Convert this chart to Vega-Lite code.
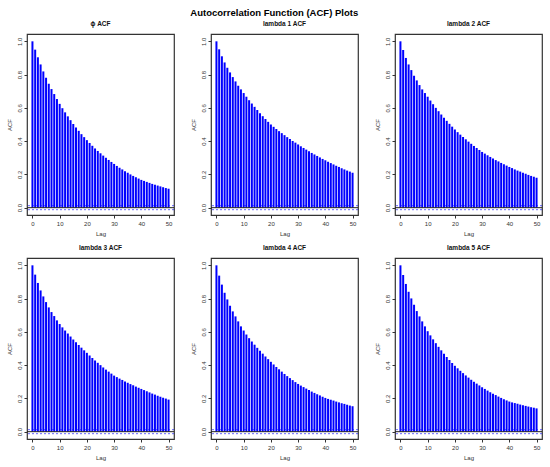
{
  "$schema": "https://vega.github.io/schema/vega-lite/v6.json",
  "description": "ACF plots for phi and lambda 1-5, lags 0 to 50.",
  "padding": {"left": 5, "right": 5, "top": 8, "bottom": 5},
  "title": {
    "text": "Autocorrelation Function (ACF) Plots",
    "font": "Liberation Sans",
    "fontSize": 9.5,
    "fontWeight": "bold",
    "color": "#000",
    "anchor": "middle",
    "offset": 2
  },
  "data": {
    "values": [
      {"panel": "ϕ ACF", "lag": 0, "acf": 1},
      {"panel": "ϕ ACF", "lag": 1, "acf": 0.95},
      {"panel": "ϕ ACF", "lag": 2, "acf": 0.904},
      {"panel": "ϕ ACF", "lag": 3, "acf": 0.861},
      {"panel": "ϕ ACF", "lag": 4, "acf": 0.819},
      {"panel": "ϕ ACF", "lag": 5, "acf": 0.781},
      {"panel": "ϕ ACF", "lag": 6, "acf": 0.745},
      {"panel": "ϕ ACF", "lag": 7, "acf": 0.713},
      {"panel": "ϕ ACF", "lag": 8, "acf": 0.683},
      {"panel": "ϕ ACF", "lag": 9, "acf": 0.653},
      {"panel": "ϕ ACF", "lag": 10, "acf": 0.624},
      {"panel": "ϕ ACF", "lag": 11, "acf": 0.598},
      {"panel": "ϕ ACF", "lag": 12, "acf": 0.573},
      {"panel": "ϕ ACF", "lag": 13, "acf": 0.549},
      {"panel": "ϕ ACF", "lag": 14, "acf": 0.526},
      {"panel": "ϕ ACF", "lag": 15, "acf": 0.503},
      {"panel": "ϕ ACF", "lag": 16, "acf": 0.482},
      {"panel": "ϕ ACF", "lag": 17, "acf": 0.462},
      {"panel": "ϕ ACF", "lag": 18, "acf": 0.442},
      {"panel": "ϕ ACF", "lag": 19, "acf": 0.424},
      {"panel": "ϕ ACF", "lag": 20, "acf": 0.406},
      {"panel": "ϕ ACF", "lag": 21, "acf": 0.389},
      {"panel": "ϕ ACF", "lag": 22, "acf": 0.372},
      {"panel": "ϕ ACF", "lag": 23, "acf": 0.356},
      {"panel": "ϕ ACF", "lag": 24, "acf": 0.341},
      {"panel": "ϕ ACF", "lag": 25, "acf": 0.327},
      {"panel": "ϕ ACF", "lag": 26, "acf": 0.313},
      {"panel": "ϕ ACF", "lag": 27, "acf": 0.3},
      {"panel": "ϕ ACF", "lag": 28, "acf": 0.287},
      {"panel": "ϕ ACF", "lag": 29, "acf": 0.275},
      {"panel": "ϕ ACF", "lag": 30, "acf": 0.263},
      {"panel": "ϕ ACF", "lag": 31, "acf": 0.251},
      {"panel": "ϕ ACF", "lag": 32, "acf": 0.24},
      {"panel": "ϕ ACF", "lag": 33, "acf": 0.23},
      {"panel": "ϕ ACF", "lag": 34, "acf": 0.219},
      {"panel": "ϕ ACF", "lag": 35, "acf": 0.21},
      {"panel": "ϕ ACF", "lag": 36, "acf": 0.2},
      {"panel": "ϕ ACF", "lag": 37, "acf": 0.191},
      {"panel": "ϕ ACF", "lag": 38, "acf": 0.183},
      {"panel": "ϕ ACF", "lag": 39, "acf": 0.175},
      {"panel": "ϕ ACF", "lag": 40, "acf": 0.167},
      {"panel": "ϕ ACF", "lag": 41, "acf": 0.161},
      {"panel": "ϕ ACF", "lag": 42, "acf": 0.155},
      {"panel": "ϕ ACF", "lag": 43, "acf": 0.149},
      {"panel": "ϕ ACF", "lag": 44, "acf": 0.143},
      {"panel": "ϕ ACF", "lag": 45, "acf": 0.138},
      {"panel": "ϕ ACF", "lag": 46, "acf": 0.133},
      {"panel": "ϕ ACF", "lag": 47, "acf": 0.128},
      {"panel": "ϕ ACF", "lag": 48, "acf": 0.123},
      {"panel": "ϕ ACF", "lag": 49, "acf": 0.118},
      {"panel": "ϕ ACF", "lag": 50, "acf": 0.114},
      {"panel": "lambda 1 ACF", "lag": 0, "acf": 1},
      {"panel": "lambda 1 ACF", "lag": 1, "acf": 0.952},
      {"panel": "lambda 1 ACF", "lag": 2, "acf": 0.91},
      {"panel": "lambda 1 ACF", "lag": 3, "acf": 0.873},
      {"panel": "lambda 1 ACF", "lag": 4, "acf": 0.841},
      {"panel": "lambda 1 ACF", "lag": 5, "acf": 0.813},
      {"panel": "lambda 1 ACF", "lag": 6, "acf": 0.785},
      {"panel": "lambda 1 ACF", "lag": 7, "acf": 0.759},
      {"panel": "lambda 1 ACF", "lag": 8, "acf": 0.733},
      {"panel": "lambda 1 ACF", "lag": 9, "acf": 0.711},
      {"panel": "lambda 1 ACF", "lag": 10, "acf": 0.689},
      {"panel": "lambda 1 ACF", "lag": 11, "acf": 0.667},
      {"panel": "lambda 1 ACF", "lag": 12, "acf": 0.646},
      {"panel": "lambda 1 ACF", "lag": 13, "acf": 0.626},
      {"panel": "lambda 1 ACF", "lag": 14, "acf": 0.606},
      {"panel": "lambda 1 ACF", "lag": 15, "acf": 0.587},
      {"panel": "lambda 1 ACF", "lag": 16, "acf": 0.568},
      {"panel": "lambda 1 ACF", "lag": 17, "acf": 0.55},
      {"panel": "lambda 1 ACF", "lag": 18, "acf": 0.533},
      {"panel": "lambda 1 ACF", "lag": 19, "acf": 0.516},
      {"panel": "lambda 1 ACF", "lag": 20, "acf": 0.5},
      {"panel": "lambda 1 ACF", "lag": 21, "acf": 0.486},
      {"panel": "lambda 1 ACF", "lag": 22, "acf": 0.473},
      {"panel": "lambda 1 ACF", "lag": 23, "acf": 0.46},
      {"panel": "lambda 1 ACF", "lag": 24, "acf": 0.448},
      {"panel": "lambda 1 ACF", "lag": 25, "acf": 0.436},
      {"panel": "lambda 1 ACF", "lag": 26, "acf": 0.424},
      {"panel": "lambda 1 ACF", "lag": 27, "acf": 0.413},
      {"panel": "lambda 1 ACF", "lag": 28, "acf": 0.401},
      {"panel": "lambda 1 ACF", "lag": 29, "acf": 0.391},
      {"panel": "lambda 1 ACF", "lag": 30, "acf": 0.38},
      {"panel": "lambda 1 ACF", "lag": 31, "acf": 0.369},
      {"panel": "lambda 1 ACF", "lag": 32, "acf": 0.359},
      {"panel": "lambda 1 ACF", "lag": 33, "acf": 0.349},
      {"panel": "lambda 1 ACF", "lag": 34, "acf": 0.339},
      {"panel": "lambda 1 ACF", "lag": 35, "acf": 0.329},
      {"panel": "lambda 1 ACF", "lag": 36, "acf": 0.32},
      {"panel": "lambda 1 ACF", "lag": 37, "acf": 0.311},
      {"panel": "lambda 1 ACF", "lag": 38, "acf": 0.302},
      {"panel": "lambda 1 ACF", "lag": 39, "acf": 0.293},
      {"panel": "lambda 1 ACF", "lag": 40, "acf": 0.285},
      {"panel": "lambda 1 ACF", "lag": 41, "acf": 0.276},
      {"panel": "lambda 1 ACF", "lag": 42, "acf": 0.268},
      {"panel": "lambda 1 ACF", "lag": 43, "acf": 0.26},
      {"panel": "lambda 1 ACF", "lag": 44, "acf": 0.252},
      {"panel": "lambda 1 ACF", "lag": 45, "acf": 0.245},
      {"panel": "lambda 1 ACF", "lag": 46, "acf": 0.237},
      {"panel": "lambda 1 ACF", "lag": 47, "acf": 0.23},
      {"panel": "lambda 1 ACF", "lag": 48, "acf": 0.223},
      {"panel": "lambda 1 ACF", "lag": 49, "acf": 0.217},
      {"panel": "lambda 1 ACF", "lag": 50, "acf": 0.21},
      {"panel": "lambda 2 ACF", "lag": 0, "acf": 1},
      {"panel": "lambda 2 ACF", "lag": 1, "acf": 0.948},
      {"panel": "lambda 2 ACF", "lag": 2, "acf": 0.9},
      {"panel": "lambda 2 ACF", "lag": 3, "acf": 0.861},
      {"panel": "lambda 2 ACF", "lag": 4, "acf": 0.827},
      {"panel": "lambda 2 ACF", "lag": 5, "acf": 0.793},
      {"panel": "lambda 2 ACF", "lag": 6, "acf": 0.765},
      {"panel": "lambda 2 ACF", "lag": 7, "acf": 0.737},
      {"panel": "lambda 2 ACF", "lag": 8, "acf": 0.711},
      {"panel": "lambda 2 ACF", "lag": 9, "acf": 0.689},
      {"panel": "lambda 2 ACF", "lag": 10, "acf": 0.667},
      {"panel": "lambda 2 ACF", "lag": 11, "acf": 0.644},
      {"panel": "lambda 2 ACF", "lag": 12, "acf": 0.622},
      {"panel": "lambda 2 ACF", "lag": 13, "acf": 0.6},
      {"panel": "lambda 2 ACF", "lag": 14, "acf": 0.58},
      {"panel": "lambda 2 ACF", "lag": 15, "acf": 0.56},
      {"panel": "lambda 2 ACF", "lag": 16, "acf": 0.541},
      {"panel": "lambda 2 ACF", "lag": 17, "acf": 0.522},
      {"panel": "lambda 2 ACF", "lag": 18, "acf": 0.504},
      {"panel": "lambda 2 ACF", "lag": 19, "acf": 0.487},
      {"panel": "lambda 2 ACF", "lag": 20, "acf": 0.47},
      {"panel": "lambda 2 ACF", "lag": 21, "acf": 0.454},
      {"panel": "lambda 2 ACF", "lag": 22, "acf": 0.439},
      {"panel": "lambda 2 ACF", "lag": 23, "acf": 0.425},
      {"panel": "lambda 2 ACF", "lag": 24, "acf": 0.411},
      {"panel": "lambda 2 ACF", "lag": 25, "acf": 0.397},
      {"panel": "lambda 2 ACF", "lag": 26, "acf": 0.384},
      {"panel": "lambda 2 ACF", "lag": 27, "acf": 0.371},
      {"panel": "lambda 2 ACF", "lag": 28, "acf": 0.359},
      {"panel": "lambda 2 ACF", "lag": 29, "acf": 0.347},
      {"panel": "lambda 2 ACF", "lag": 30, "acf": 0.335},
      {"panel": "lambda 2 ACF", "lag": 31, "acf": 0.325},
      {"panel": "lambda 2 ACF", "lag": 32, "acf": 0.315},
      {"panel": "lambda 2 ACF", "lag": 33, "acf": 0.305},
      {"panel": "lambda 2 ACF", "lag": 34, "acf": 0.296},
      {"panel": "lambda 2 ACF", "lag": 35, "acf": 0.286},
      {"panel": "lambda 2 ACF", "lag": 36, "acf": 0.278},
      {"panel": "lambda 2 ACF", "lag": 37, "acf": 0.269},
      {"panel": "lambda 2 ACF", "lag": 38, "acf": 0.261},
      {"panel": "lambda 2 ACF", "lag": 39, "acf": 0.253},
      {"panel": "lambda 2 ACF", "lag": 40, "acf": 0.245},
      {"panel": "lambda 2 ACF", "lag": 41, "acf": 0.238},
      {"panel": "lambda 2 ACF", "lag": 42, "acf": 0.23},
      {"panel": "lambda 2 ACF", "lag": 43, "acf": 0.223},
      {"panel": "lambda 2 ACF", "lag": 44, "acf": 0.217},
      {"panel": "lambda 2 ACF", "lag": 45, "acf": 0.21},
      {"panel": "lambda 2 ACF", "lag": 46, "acf": 0.204},
      {"panel": "lambda 2 ACF", "lag": 47, "acf": 0.197},
      {"panel": "lambda 2 ACF", "lag": 48, "acf": 0.191},
      {"panel": "lambda 2 ACF", "lag": 49, "acf": 0.186},
      {"panel": "lambda 2 ACF", "lag": 50, "acf": 0.18},
      {"panel": "lambda 3 ACF", "lag": 0, "acf": 1},
      {"panel": "lambda 3 ACF", "lag": 1, "acf": 0.944},
      {"panel": "lambda 3 ACF", "lag": 2, "acf": 0.894},
      {"panel": "lambda 3 ACF", "lag": 3, "acf": 0.849},
      {"panel": "lambda 3 ACF", "lag": 4, "acf": 0.813},
      {"panel": "lambda 3 ACF", "lag": 5, "acf": 0.779},
      {"panel": "lambda 3 ACF", "lag": 6, "acf": 0.747},
      {"panel": "lambda 3 ACF", "lag": 7, "acf": 0.719},
      {"panel": "lambda 3 ACF", "lag": 8, "acf": 0.695},
      {"panel": "lambda 3 ACF", "lag": 9, "acf": 0.669},
      {"panel": "lambda 3 ACF", "lag": 10, "acf": 0.647},
      {"panel": "lambda 3 ACF", "lag": 11, "acf": 0.627},
      {"panel": "lambda 3 ACF", "lag": 12, "acf": 0.608},
      {"panel": "lambda 3 ACF", "lag": 13, "acf": 0.59},
      {"panel": "lambda 3 ACF", "lag": 14, "acf": 0.572},
      {"panel": "lambda 3 ACF", "lag": 15, "acf": 0.554},
      {"panel": "lambda 3 ACF", "lag": 16, "acf": 0.537},
      {"panel": "lambda 3 ACF", "lag": 17, "acf": 0.521},
      {"panel": "lambda 3 ACF", "lag": 18, "acf": 0.505},
      {"panel": "lambda 3 ACF", "lag": 19, "acf": 0.489},
      {"panel": "lambda 3 ACF", "lag": 20, "acf": 0.474},
      {"panel": "lambda 3 ACF", "lag": 21, "acf": 0.458},
      {"panel": "lambda 3 ACF", "lag": 22, "acf": 0.443},
      {"panel": "lambda 3 ACF", "lag": 23, "acf": 0.428},
      {"panel": "lambda 3 ACF", "lag": 24, "acf": 0.414},
      {"panel": "lambda 3 ACF", "lag": 25, "acf": 0.4},
      {"panel": "lambda 3 ACF", "lag": 26, "acf": 0.386},
      {"panel": "lambda 3 ACF", "lag": 27, "acf": 0.373},
      {"panel": "lambda 3 ACF", "lag": 28, "acf": 0.361},
      {"panel": "lambda 3 ACF", "lag": 29, "acf": 0.349},
      {"panel": "lambda 3 ACF", "lag": 30, "acf": 0.337},
      {"panel": "lambda 3 ACF", "lag": 31, "acf": 0.328},
      {"panel": "lambda 3 ACF", "lag": 32, "acf": 0.319},
      {"panel": "lambda 3 ACF", "lag": 33, "acf": 0.311},
      {"panel": "lambda 3 ACF", "lag": 34, "acf": 0.302},
      {"panel": "lambda 3 ACF", "lag": 35, "acf": 0.294},
      {"panel": "lambda 3 ACF", "lag": 36, "acf": 0.286},
      {"panel": "lambda 3 ACF", "lag": 37, "acf": 0.279},
      {"panel": "lambda 3 ACF", "lag": 38, "acf": 0.271},
      {"panel": "lambda 3 ACF", "lag": 39, "acf": 0.264},
      {"panel": "lambda 3 ACF", "lag": 40, "acf": 0.257},
      {"panel": "lambda 3 ACF", "lag": 41, "acf": 0.25},
      {"panel": "lambda 3 ACF", "lag": 42, "acf": 0.243},
      {"panel": "lambda 3 ACF", "lag": 43, "acf": 0.236},
      {"panel": "lambda 3 ACF", "lag": 44, "acf": 0.229},
      {"panel": "lambda 3 ACF", "lag": 45, "acf": 0.223},
      {"panel": "lambda 3 ACF", "lag": 46, "acf": 0.216},
      {"panel": "lambda 3 ACF", "lag": 47, "acf": 0.21},
      {"panel": "lambda 3 ACF", "lag": 48, "acf": 0.204},
      {"panel": "lambda 3 ACF", "lag": 49, "acf": 0.199},
      {"panel": "lambda 3 ACF", "lag": 50, "acf": 0.193},
      {"panel": "lambda 4 ACF", "lag": 0, "acf": 1},
      {"panel": "lambda 4 ACF", "lag": 1, "acf": 0.938},
      {"panel": "lambda 4 ACF", "lag": 2, "acf": 0.884},
      {"panel": "lambda 4 ACF", "lag": 3, "acf": 0.835},
      {"panel": "lambda 4 ACF", "lag": 4, "acf": 0.795},
      {"panel": "lambda 4 ACF", "lag": 5, "acf": 0.757},
      {"panel": "lambda 4 ACF", "lag": 6, "acf": 0.723},
      {"panel": "lambda 4 ACF", "lag": 7, "acf": 0.693},
      {"panel": "lambda 4 ACF", "lag": 8, "acf": 0.663},
      {"panel": "lambda 4 ACF", "lag": 9, "acf": 0.633},
      {"panel": "lambda 4 ACF", "lag": 10, "acf": 0.608},
      {"panel": "lambda 4 ACF", "lag": 11, "acf": 0.584},
      {"panel": "lambda 4 ACF", "lag": 12, "acf": 0.562},
      {"panel": "lambda 4 ACF", "lag": 13, "acf": 0.542},
      {"panel": "lambda 4 ACF", "lag": 14, "acf": 0.523},
      {"panel": "lambda 4 ACF", "lag": 15, "acf": 0.504},
      {"panel": "lambda 4 ACF", "lag": 16, "acf": 0.486},
      {"panel": "lambda 4 ACF", "lag": 17, "acf": 0.469},
      {"panel": "lambda 4 ACF", "lag": 18, "acf": 0.452},
      {"panel": "lambda 4 ACF", "lag": 19, "acf": 0.436},
      {"panel": "lambda 4 ACF", "lag": 20, "acf": 0.42},
      {"panel": "lambda 4 ACF", "lag": 21, "acf": 0.404},
      {"panel": "lambda 4 ACF", "lag": 22, "acf": 0.389},
      {"panel": "lambda 4 ACF", "lag": 23, "acf": 0.375},
      {"panel": "lambda 4 ACF", "lag": 24, "acf": 0.361},
      {"panel": "lambda 4 ACF", "lag": 25, "acf": 0.347},
      {"panel": "lambda 4 ACF", "lag": 26, "acf": 0.334},
      {"panel": "lambda 4 ACF", "lag": 27, "acf": 0.322},
      {"panel": "lambda 4 ACF", "lag": 28, "acf": 0.31},
      {"panel": "lambda 4 ACF", "lag": 29, "acf": 0.298},
      {"panel": "lambda 4 ACF", "lag": 30, "acf": 0.287},
      {"panel": "lambda 4 ACF", "lag": 31, "acf": 0.277},
      {"panel": "lambda 4 ACF", "lag": 32, "acf": 0.268},
      {"panel": "lambda 4 ACF", "lag": 33, "acf": 0.259},
      {"panel": "lambda 4 ACF", "lag": 34, "acf": 0.25},
      {"panel": "lambda 4 ACF", "lag": 35, "acf": 0.241},
      {"panel": "lambda 4 ACF", "lag": 36, "acf": 0.233},
      {"panel": "lambda 4 ACF", "lag": 37, "acf": 0.225},
      {"panel": "lambda 4 ACF", "lag": 38, "acf": 0.218},
      {"panel": "lambda 4 ACF", "lag": 39, "acf": 0.21},
      {"panel": "lambda 4 ACF", "lag": 40, "acf": 0.203},
      {"panel": "lambda 4 ACF", "lag": 41, "acf": 0.197},
      {"panel": "lambda 4 ACF", "lag": 42, "acf": 0.192},
      {"panel": "lambda 4 ACF", "lag": 43, "acf": 0.187},
      {"panel": "lambda 4 ACF", "lag": 44, "acf": 0.181},
      {"panel": "lambda 4 ACF", "lag": 45, "acf": 0.176},
      {"panel": "lambda 4 ACF", "lag": 46, "acf": 0.171},
      {"panel": "lambda 4 ACF", "lag": 47, "acf": 0.167},
      {"panel": "lambda 4 ACF", "lag": 48, "acf": 0.162},
      {"panel": "lambda 4 ACF", "lag": 49, "acf": 0.157},
      {"panel": "lambda 4 ACF", "lag": 50, "acf": 0.153},
      {"panel": "lambda 5 ACF", "lag": 0, "acf": 1},
      {"panel": "lambda 5 ACF", "lag": 1, "acf": 0.942},
      {"panel": "lambda 5 ACF", "lag": 2, "acf": 0.888},
      {"panel": "lambda 5 ACF", "lag": 3, "acf": 0.841},
      {"panel": "lambda 5 ACF", "lag": 4, "acf": 0.801},
      {"panel": "lambda 5 ACF", "lag": 5, "acf": 0.763},
      {"panel": "lambda 5 ACF", "lag": 6, "acf": 0.725},
      {"panel": "lambda 5 ACF", "lag": 7, "acf": 0.693},
      {"panel": "lambda 5 ACF", "lag": 8, "acf": 0.663},
      {"panel": "lambda 5 ACF", "lag": 9, "acf": 0.633},
      {"panel": "lambda 5 ACF", "lag": 10, "acf": 0.604},
      {"panel": "lambda 5 ACF", "lag": 11, "acf": 0.579},
      {"panel": "lambda 5 ACF", "lag": 12, "acf": 0.555},
      {"panel": "lambda 5 ACF", "lag": 13, "acf": 0.532},
      {"panel": "lambda 5 ACF", "lag": 14, "acf": 0.51},
      {"panel": "lambda 5 ACF", "lag": 15, "acf": 0.489},
      {"panel": "lambda 5 ACF", "lag": 16, "acf": 0.469},
      {"panel": "lambda 5 ACF", "lag": 17, "acf": 0.449},
      {"panel": "lambda 5 ACF", "lag": 18, "acf": 0.431},
      {"panel": "lambda 5 ACF", "lag": 19, "acf": 0.413},
      {"panel": "lambda 5 ACF", "lag": 20, "acf": 0.396},
      {"panel": "lambda 5 ACF", "lag": 21, "acf": 0.381},
      {"panel": "lambda 5 ACF", "lag": 22, "acf": 0.366},
      {"panel": "lambda 5 ACF", "lag": 23, "acf": 0.352},
      {"panel": "lambda 5 ACF", "lag": 24, "acf": 0.338},
      {"panel": "lambda 5 ACF", "lag": 25, "acf": 0.325},
      {"panel": "lambda 5 ACF", "lag": 26, "acf": 0.312},
      {"panel": "lambda 5 ACF", "lag": 27, "acf": 0.3},
      {"panel": "lambda 5 ACF", "lag": 28, "acf": 0.289},
      {"panel": "lambda 5 ACF", "lag": 29, "acf": 0.278},
      {"panel": "lambda 5 ACF", "lag": 30, "acf": 0.267},
      {"panel": "lambda 5 ACF", "lag": 31, "acf": 0.257},
      {"panel": "lambda 5 ACF", "lag": 32, "acf": 0.247},
      {"panel": "lambda 5 ACF", "lag": 33, "acf": 0.237},
      {"panel": "lambda 5 ACF", "lag": 34, "acf": 0.228},
      {"panel": "lambda 5 ACF", "lag": 35, "acf": 0.22},
      {"panel": "lambda 5 ACF", "lag": 36, "acf": 0.211},
      {"panel": "lambda 5 ACF", "lag": 37, "acf": 0.203},
      {"panel": "lambda 5 ACF", "lag": 38, "acf": 0.195},
      {"panel": "lambda 5 ACF", "lag": 39, "acf": 0.188},
      {"panel": "lambda 5 ACF", "lag": 40, "acf": 0.181},
      {"panel": "lambda 5 ACF", "lag": 41, "acf": 0.176},
      {"panel": "lambda 5 ACF", "lag": 42, "acf": 0.172},
      {"panel": "lambda 5 ACF", "lag": 43, "acf": 0.168},
      {"panel": "lambda 5 ACF", "lag": 44, "acf": 0.163},
      {"panel": "lambda 5 ACF", "lag": 45, "acf": 0.159},
      {"panel": "lambda 5 ACF", "lag": 46, "acf": 0.155},
      {"panel": "lambda 5 ACF", "lag": 47, "acf": 0.151},
      {"panel": "lambda 5 ACF", "lag": 48, "acf": 0.147},
      {"panel": "lambda 5 ACF", "lag": 49, "acf": 0.144},
      {"panel": "lambda 5 ACF", "lag": 50, "acf": 0.14}
    ]
  },
  "columns": 3,
  "spacing": {"row": 6, "column": 13},
  "facet": {
    "field": "panel",
    "type": "nominal",
    "sort": ["ϕ ACF", "lambda 1 ACF", "lambda 2 ACF", "lambda 3 ACF", "lambda 4 ACF", "lambda 5 ACF"],
    "header": {
      "title": null,
      "labelFont": "Liberation Sans",
      "labelFontSize": 6.5,
      "labelFontWeight": "bold",
      "labelColor": "#111",
      "labelPadding": 7
    }
  },
  "spec": {
    "width": 147,
    "height": 181,
    "layer": [
      {
        "mark": {"type": "rule", "color": "#0000ff", "strokeWidth": 2},
        "encoding": {
          "x": {
            "field": "lag",
            "type": "quantitative",
            "title": "Lag",
            "scale": {"domain": [-2, 52], "nice": false, "zero": false},
            "axis": {"values": [0, 10, 20, 30, 40, 50]}
          },
          "y": {
            "field": "acf",
            "type": "quantitative",
            "title": "ACF",
            "scale": {"domain": [-0.044, 1.044], "nice": false},
            "axis": {
              "values": [0, 0.2, 0.4, 0.6, 0.8, 1],
              "labelExpr": "format(datum.value, '.1f')",
              "labelAngle": 270,
              "labelAlign": "center",
              "labelBaseline": "bottom",
              "labelOverlap": false
            }
          },
          "y2": {"datum": 0}
        }
      },
      {
        "transform": [{"filter": "datum.lag == 0"}],
        "mark": {"type": "rule", "color": "#222", "strokeWidth": 1},
        "encoding": {
          "y": {
            "datum": 0,
            "title": "ACF",
            "axis": {
              "values": [0, 0.2, 0.4, 0.6, 0.8, 1],
              "labelExpr": "format(datum.value, '.1f')",
              "labelAngle": 270,
              "labelAlign": "center",
              "labelBaseline": "bottom",
              "labelOverlap": false
            }
          }
        }
      },
      {
        "transform": [{"filter": "datum.lag == 0"}],
        "mark": {"type": "rule", "color": "#0000ff", "strokeWidth": 1, "strokeDash": [2, 2], "opacity": 0.6},
        "encoding": {
          "y": {
            "datum": 0.012,
            "title": "ACF",
            "axis": {
              "values": [0, 0.2, 0.4, 0.6, 0.8, 1],
              "labelExpr": "format(datum.value, '.1f')",
              "labelAngle": 270,
              "labelAlign": "center",
              "labelBaseline": "bottom",
              "labelOverlap": false
            }
          }
        }
      },
      {
        "transform": [{"filter": "datum.lag == 0"}],
        "mark": {"type": "rule", "color": "#0000ff", "strokeWidth": 1, "strokeDash": [2, 2], "opacity": 0.6},
        "encoding": {
          "y": {
            "datum": -0.012,
            "title": "ACF",
            "axis": {
              "values": [0, 0.2, 0.4, 0.6, 0.8, 1],
              "labelExpr": "format(datum.value, '.1f')",
              "labelAngle": 270,
              "labelAlign": "center",
              "labelBaseline": "bottom",
              "labelOverlap": false
            }
          }
        }
      }
    ]
  },
  "resolve": {"axis": {"x": "independent", "y": "independent"}},
  "config": {
    "view": {"stroke": "#333", "strokeWidth": 1.2},
    "axis": {
      "domain": false,
      "grid": false,
      "ticks": true,
      "tickSize": 3,
      "tickColor": "#333",
      "labelFont": "Liberation Sans",
      "labelFontSize": 6,
      "labelColor": "#333",
      "labelPadding": 2,
      "titleFont": "Liberation Sans",
      "titleFontSize": 6,
      "titleFontWeight": "normal",
      "titleColor": "#333",
      "titlePadding": 4
    }
  }
}
